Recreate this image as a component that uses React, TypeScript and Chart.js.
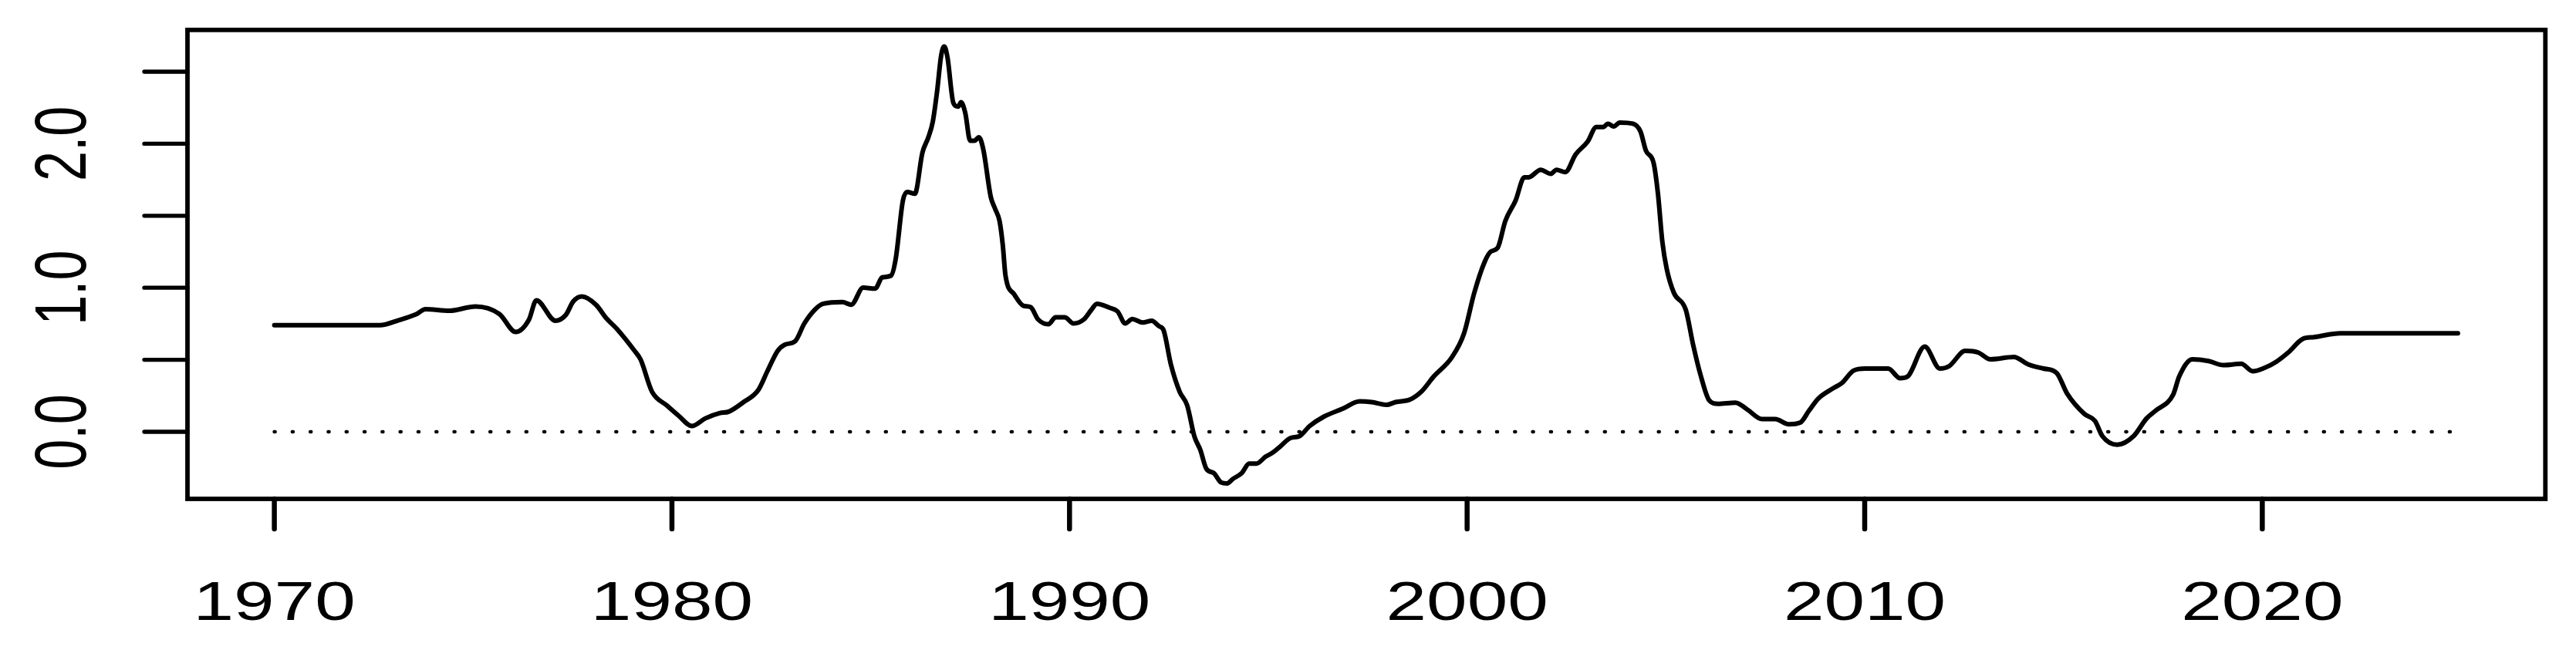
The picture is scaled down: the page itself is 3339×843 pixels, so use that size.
import React, { useEffect, useRef } from "react";
import { Chart, registerables } from "chart.js";

Chart.register(...registerables);

// ---- data ----
const YEARS: number[] = [
  1970.0, 1972.65, 1973.14, 1973.58, 1973.8, 1974.4, 1975.06, 1975.66, 1976.07, 1976.4,
  1976.59, 1977.07, 1977.33, 1977.52, 1977.74, 1978.09, 1978.35, 1978.61, 1979.06, 1979.21,
  1979.5, 1979.87, 1980.17, 1980.5, 1980.84, 1981.21, 1981.43, 1981.8, 1982.17, 1982.4,
  1982.66, 1982.84, 1983.1, 1983.33, 1983.59, 1983.81, 1984.29, 1984.51, 1984.81, 1985.11,
  1985.29, 1985.51, 1985.63, 1985.81, 1985.92, 1986.11, 1986.3, 1986.45, 1986.56, 1986.67,
  1986.77, 1986.85, 1986.93, 1987.08, 1987.2, 1987.27, 1987.38, 1987.5, 1987.61, 1987.72,
  1987.83, 1988.02, 1988.13, 1988.24, 1988.32, 1988.39, 1988.61, 1988.84, 1989.02, 1989.21,
  1989.47, 1989.65, 1989.88, 1990.1, 1990.36, 1990.55, 1990.69, 1990.99, 1991.21, 1991.4,
  1991.58, 1991.84, 1992.07, 1992.25, 1992.36, 1992.55, 1992.77, 1992.96, 1993.14, 1993.29,
  1993.44, 1993.63, 1993.81, 1993.96, 1994.11, 1994.33, 1994.52, 1994.7, 1994.93, 1995.11,
  1995.3, 1995.56, 1995.78, 1996.04, 1996.41, 1996.86, 1997.3, 1997.6, 1997.97, 1998.2,
  1998.57, 1998.86, 1999.16, 1999.61, 1999.92, 2000.18, 2000.44, 2000.59, 2000.77, 2000.96,
  2001.22, 2001.44, 2001.55, 2001.85, 2002.1, 2002.25, 2002.47, 2002.73, 2003.03, 2003.25,
  2003.43, 2003.54, 2003.69, 2003.84, 2004.17, 2004.36, 2004.5, 2004.69, 2004.8, 2004.91,
  2005.02, 2005.2, 2005.5, 2005.68, 2005.87, 2006.09, 2006.31, 2006.75, 2007.05, 2007.42,
  2007.75, 2008.09, 2008.38, 2008.6, 2008.83, 2009.2, 2009.42, 2009.72, 2010.01, 2010.59,
  2010.89, 2011.08, 2011.51, 2011.89, 2012.12, 2012.53, 2012.86, 2013.16, 2013.75, 2014.12,
  2014.5, 2014.83, 2015.09, 2015.53, 2015.79, 2015.98, 2016.35, 2016.76, 2017.09, 2017.32,
  2017.76, 2017.91, 2018.24, 2018.65, 2019.02, 2019.47, 2019.76, 2020.06, 2020.35, 2020.65,
  2021.02, 2021.3, 2021.96, 2024.92,
];

const VALUES: number[] = [
  0.74, 0.74, 0.776, 0.818, 0.851, 0.84, 0.87, 0.818, 0.693, 0.776,
  0.913, 0.771, 0.811, 0.906, 0.94, 0.882, 0.788, 0.716, 0.562, 0.503,
  0.278, 0.183, 0.111, 0.04, 0.093, 0.13, 0.14, 0.206, 0.289, 0.42,
  0.562, 0.605, 0.629, 0.752, 0.847, 0.889, 0.901, 0.882, 1.001, 0.994,
  1.072, 1.084, 1.203, 1.606, 1.665, 1.653, 1.938, 2.045, 2.151, 2.365,
  2.61, 2.675, 2.6, 2.282, 2.258, 2.289, 2.211, 2.021, 2.021, 2.045,
  1.962, 1.63, 1.547, 1.463, 1.3, 1.084, 0.954, 0.875, 0.866, 0.78,
  0.747, 0.795, 0.795, 0.752, 0.78, 0.847, 0.889, 0.863, 0.835, 0.752,
  0.783, 0.759, 0.771, 0.733, 0.709, 0.467, 0.278, 0.183, -0.031, -0.126,
  -0.256, -0.287, -0.351, -0.358, -0.327, -0.287, -0.221, -0.221, -0.173, -0.145,
  -0.102, -0.043, -0.031, 0.04, 0.107, 0.159, 0.211, 0.206, 0.187, 0.206,
  0.225, 0.282, 0.384, 0.515, 0.681, 0.965, 1.179, 1.25, 1.278, 1.463,
  1.606, 1.767, 1.767, 1.819, 1.791, 1.819, 1.803, 1.926, 2.014, 2.116,
  2.116, 2.139, 2.12, 2.147, 2.139, 2.085, 1.95, 1.867, 1.653, 1.321,
  1.131, 0.965, 0.847, 0.61, 0.396, 0.218, 0.194, 0.202, 0.154, 0.088,
  0.088, 0.052, 0.064, 0.147, 0.23, 0.301, 0.337, 0.425, 0.439, 0.439,
  0.372, 0.384, 0.591, 0.439, 0.455, 0.562, 0.55, 0.503, 0.519, 0.467,
  0.439, 0.408, 0.266, 0.123, 0.076, -0.031, -0.09, -0.031, 0.093, 0.147,
  0.259, 0.384, 0.503, 0.491, 0.463, 0.472, 0.42, 0.444, 0.486, 0.55,
  0.645, 0.657, 0.684, 0.684,
];

const ZERO_LINE_X: number[] = [1970.0, 2024.92];
const X_TICKS: number[] = [1970, 1980, 1990, 2000, 2010, 2020];
const X_TICK_LABELS: string[] = ["1970", "1980", "1990", "2000", "2010", "2020"];
const Y_TICKS: number[] = [0, 0.5, 1, 1.5, 2, 2.5];
const Y_LABEL_VALUES: number[] = [0, 1, 2];
const Y_LABELS: string[] = ["0.0", "1.0", "2.0"];

const X_MIN = 1967.815;
const X_MAX = 2027.12;
const Y_MIN = -0.4657;
const Y_MAX = 2.79;

const W = 3339;
const H = 843;
const BOX_LEFT = 243;
const BOX_RIGHT = 3299.3;
const BOX_TOP = 38.8;
const BOX_BOTTOM = 647;
const FONT = '70px "Liberation Sans", Arial, sans-serif';
const STRETCH = 1.35;

const framePlugin = {
  id: "rframe",
  afterDraw(chart: any) {
    const ctx: CanvasRenderingContext2D = chart.ctx;
    const { left, right, top, bottom } = chart.chartArea;
    const xs = chart.scales.x;
    const ys = chart.scales.y;
    ctx.save();
    ctx.strokeStyle = "#000";
    ctx.fillStyle = "#000";
    // box
    ctx.lineWidth = 5.8;
    ctx.lineJoin = "miter";
    ctx.strokeRect(left, top, right - left, bottom - top);
    // x ticks
    ctx.lineCap = "round";
    ctx.lineWidth = 6.5;
    X_TICKS.forEach((v) => {
      const px = xs.getPixelForValue(v);
      ctx.beginPath();
      ctx.moveTo(px, bottom);
      ctx.lineTo(px, bottom + 39);
      ctx.stroke();
    });
    // y ticks
    ctx.lineWidth = 5.3;
    Y_TICKS.forEach((v) => {
      const py = ys.getPixelForValue(v);
      ctx.beginPath();
      ctx.moveTo(left, py);
      ctx.lineTo(left - 56, py);
      ctx.stroke();
    });
    // labels
    ctx.font = FONT;
    ctx.textAlign = "center";
    ctx.textBaseline = "alphabetic";
    X_TICKS.forEach((v, i) => {
      const px = xs.getPixelForValue(v);
      ctx.save();
      ctx.translate(px, 804);
      ctx.scale(STRETCH, 1);
      ctx.fillText(X_TICK_LABELS[i], 0, 0);
      ctx.restore();
    });
    Y_LABEL_VALUES.forEach((v, i) => {
      const py = ys.getPixelForValue(v);
      ctx.save();
      ctx.translate(111, py);
      ctx.scale(STRETCH, 1);
      ctx.rotate(-Math.PI / 2);
      ctx.fillText(Y_LABELS[i], 0, 0);
      ctx.restore();
    });
    ctx.restore();
  },
};

export default function App() {
  const ref = useRef<HTMLCanvasElement | null>(null);

  useEffect(() => {
    document.body.style.margin = "0";
    const canvas = ref.current;
    if (!canvas) return;
    const chart = new Chart(canvas, {
      type: "line",
      data: {
        datasets: [
          {
            data: YEARS.map((x, i) => ({ x, y: VALUES[i] })),
            borderColor: "#000",
            borderWidth: 6,
            pointRadius: 0,
            cubicInterpolationMode: "monotone",
            borderCapStyle: "round",
            borderJoinStyle: "round",
            fill: false,
          },
          {
            data: ZERO_LINE_X.map((x) => ({ x, y: 0 })),
            borderColor: "#000",
            borderWidth: 4.6,
            borderDash: [1, 22.3],
            borderCapStyle: "round",
            pointRadius: 0,
            fill: false,
          },
        ],
      },
      options: {
        responsive: false,
        animation: false,
        devicePixelRatio: 1,
        layout: {
          padding: {
            left: BOX_LEFT,
            right: W - BOX_RIGHT,
            top: BOX_TOP,
            bottom: H - BOX_BOTTOM,
          },
        },
        plugins: {
          legend: { display: false },
          tooltip: { enabled: false },
        },
        scales: {
          x: { type: "linear", min: X_MIN, max: X_MAX, display: false },
          y: { type: "linear", min: Y_MIN, max: Y_MAX, display: false },
        },
      },
      plugins: [framePlugin],
    } as any);
    return () => chart.destroy();
  }, []);

  return (
    <div style={{ width: W, height: H, background: "#fff" }}>
      <canvas ref={ref} width={W} height={H} style={{ display: "block", width: W, height: H }} />
    </div>
  );
}
